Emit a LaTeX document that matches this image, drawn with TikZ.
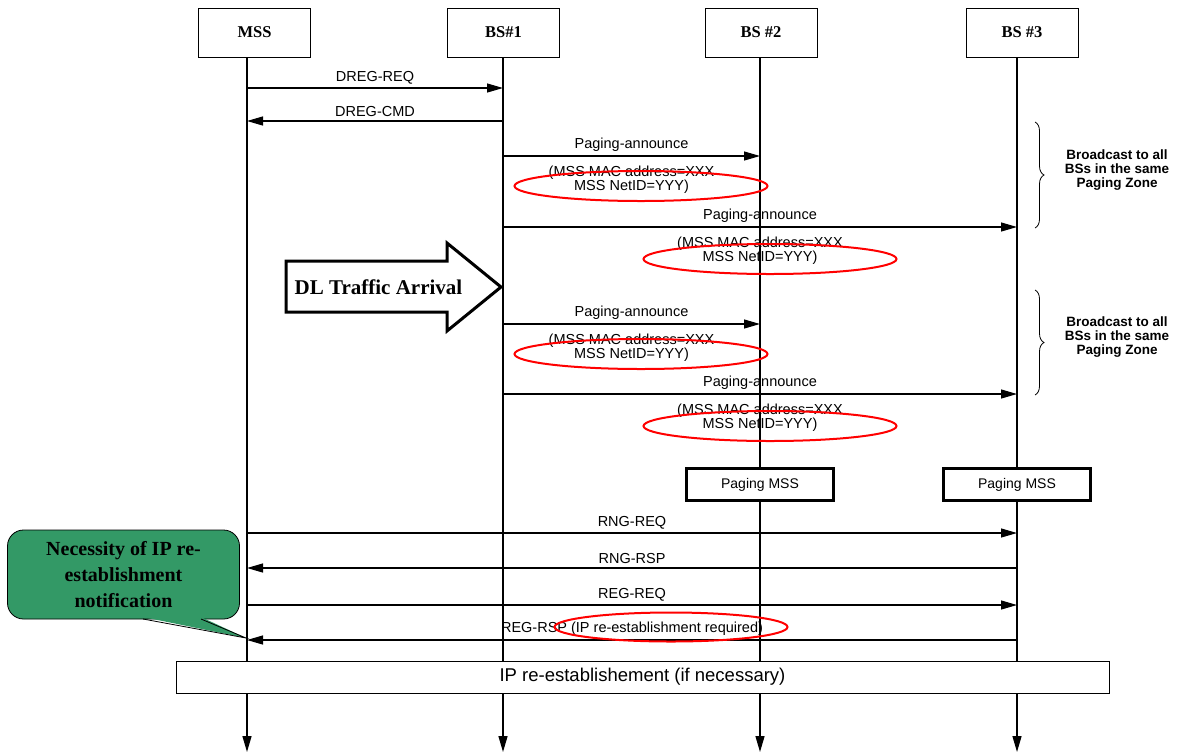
\documentclass[tikz,border=0pt]{standalone}
\usepackage{fontspec}
\setmainfont{Liberation Serif}
\setsansfont{Liberation Sans}
\usetikzlibrary{arrows.meta,positioning,shapes.geometric,decorations.pathreplacing}
\definecolor{calloutgreen}{RGB}{51,153,102}

\begin{document}
\begin{tikzpicture}[
    x=1pt, y=-1pt,
    >={Triangle[length=16pt,width=9pt]},
    entity/.style={
      draw,
      line width=0.8pt,
      minimum width=112pt,
      minimum height=49pt,
      font=\bfseries\fontsize{16.5}{16.5}\selectfont
    },
    life/.style={->, line width=1.4pt},
    msg/.style={->, line width=1.2pt},
    lbl/.style={above=2.5pt, inner sep=1pt, font=\sffamily\fontsize{14.5}{14.5}\selectfont},
    note/.style={
      below=9pt,
      align=center,
      inner sep=0pt,
      font=\sffamily\fontsize{14.5}{13.5}\selectfont
    },
    hl/.style={
      ellipse,
      draw=red,
      line width=2pt,
      minimum width=253pt,
      minimum height=30pt,
      inner sep=0pt
    },
    pagebox/.style={
      draw,
      fill=white,
      line width=3pt,
      minimum width=147pt,
      minimum height=32pt,
      font=\sffamily\fontsize{14}{14}\selectfont
    },
    ipbox/.style={
      draw,
      fill=white,
      line width=1pt,
      minimum width=933pt,
      minimum height=32pt,
      font=\sffamily\fontsize{18.5}{18.5}\selectfont
    },
    zone/.style={decorate, decoration={brace, amplitude=9pt}, line width=0.8pt},
    zonetext/.style={align=center, font=\sffamily\bfseries\fontsize{13.5}{14}\selectfont},
    callout/.style={
      draw,
      fill=calloutgreen,
      line width=0.8pt,
      rounded corners=16pt,
      minimum width=232pt,
      minimum height=89pt,
      align=center,
      font=\bfseries\fontsize{20}{26}\selectfont
    }
  ]
    \useasboundingbox (0,0) rectangle (1177,753);

    % entities
    \node[entity] (mss) at (254.5,32.5) {MSS};
    \node[entity] (bs1) at (503.5,32.5) {BS\#1};
    \node[entity] (bs2) at (761,32.5) {BS \#2};
    \node[entity] (bs3) at (1022,32.5) {BS \#3};

    \coordinate (mss-end) at (247,752);
    \coordinate (bs1-end) at (503,752);
    \coordinate (bs2-end) at (760,752);
    \coordinate (bs3-end) at (1017,752);

    \draw[life] (mss.south -| mss-end) -- (mss-end);
    \draw[life] (bs1.south -| bs1-end) -- (bs1-end);
    \draw[life] (bs2.south -| bs2-end) -- (bs2-end);
    \draw[life] (bs3.south -| bs3-end) -- (bs3-end);

    % message rows
    \foreach \row/\y in {dreq/88, dcmd/121, pa1/156, pa2/227, pa3/324, pa4/394,
                         rreq/533, rrsp/568, greq/605, grsp/640} {
      \coordinate (mss-\row) at (247,\y);
      \coordinate (bs1-\row) at (503,\y);
      \coordinate (bs2-\row) at (760,\y);
      \coordinate (bs3-\row) at (1017,\y);
    }

    \node[pagebox] (page2) at (760,484.5) {Paging MSS};
    \node[pagebox] (page3) at (1017,484.5) {Paging MSS};
    \node[ipbox] (ipre) at (642.5,677) {IP re-establishement (if necessary)};

    \draw[msg] (mss-dreq) -- node[lbl] {DREG-REQ} (bs1-dreq);
    \draw[msg] (bs1-dcmd) -- node[lbl] {DREG-CMD} (mss-dcmd);

    \draw[msg] (bs1-pa1) -- node[lbl] {Paging-announce}
      node[note] {(MSS MAC address=XXX\\MSS NetID=YYY)} (bs2-pa1);
    \draw[msg] (bs1-pa2) -- node[lbl] {Paging-announce}
      node[note] {(MSS MAC address=XXX\\MSS NetID=YYY)} (bs3-pa2);
    \draw[msg] (bs1-pa3) -- node[lbl] {Paging-announce}
      node[note] {(MSS MAC address=XXX\\MSS NetID=YYY)} (bs2-pa3);
    \draw[msg] (bs1-pa4) -- node[lbl] {Paging-announce}
      node[note] {(MSS MAC address=XXX\\MSS NetID=YYY)} (bs3-pa4);

    \node[hl] (hl1) at (641,186) {};
    \node[hl] (hl2) at (770,259) {};
    \node[hl] (hl3) at (641,354) {};
    \node[hl] (hl4) at (770,426) {};

    \draw[msg] (mss-rreq) -- node[lbl] {RNG-REQ} (bs3-rreq);
    \draw[msg] (bs3-rrsp) -- node[lbl] {RNG-RSP} (mss-rrsp);
    \draw[msg] (mss-greq) -- node[lbl] {REG-REQ} (bs3-greq);
    \draw[msg] (bs3-grsp) -- node[lbl] {REG-RSP (IP re-establishment required)} (mss-grsp);
    \node[hl, minimum width=233pt, minimum height=29pt] (hl5) at (671,627) {};

    % paging zones
    \coordinate (zone1-top) at (1035,122);
    \coordinate (zone1-bot) at (1035,228);
    \coordinate (zone2-top) at (1035,290);
    \coordinate (zone2-bot) at (1035,395);
    \draw[zone] (zone1-top) -- (zone1-bot);
    \draw[zone] (zone2-top) -- (zone2-bot);
    \node[zonetext] (zone1) at (1117,170) {Broadcast to all\\BSs in the same\\Paging Zone};
    \node[zonetext] (zone2) at (1117,337) {Broadcast to all\\BSs in the same\\Paging Zone};

    % downlink traffic arrow
    \draw[line width=3pt, fill=white, line join=miter]
      (286,261) -- (447,261) -- (447,243) -- (501,287) -- (447,331)
      -- (447,312) -- (286,312) -- cycle;
    \node[font=\bfseries\fontsize{21}{21}\selectfont] (dl) at (378.5,287) {DL Traffic Arrival};

    % callout
    \node[callout] (need) at (123.5,574.5) {Necessity of IP re-\\establishment\\notification};
    \coordinate (need-tip) at (246,638);
    \fill[calloutgreen] (143,617) -- (need-tip) -- (201,617) -- cycle;
    \draw[line width=0.8pt] (143,619) -- (need-tip) -- (201,619);
  \end{tikzpicture}
\end{document}
